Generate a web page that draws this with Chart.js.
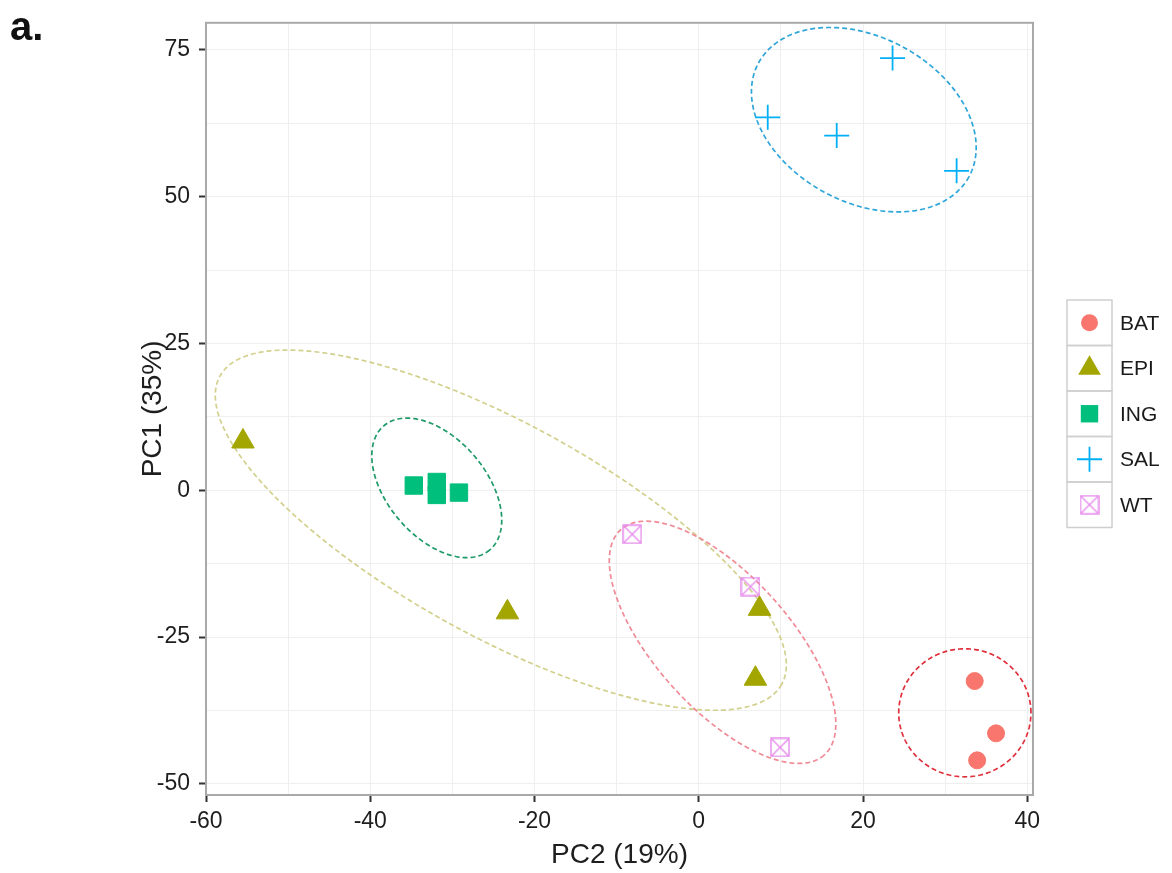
<!DOCTYPE html>
<html>
<head>
<meta charset="utf-8">
<script src="https://cdn.jsdelivr.net/npm/chart.js@4.4.0/dist/chart.umd.min.js"></script>
<style>
  html, body { margin: 0; padding: 0; background: #fff; }
  #wrap { position: relative; width: 1172px; height: 873px; }
</style>
</head>
<body>
<div id="wrap"><canvas id="pca" width="1172" height="873"></canvas></div>
<script>
// groups in legend order
var groups = ['BAT', 'EPI', 'ING', 'SAL', 'WT'];
var groupColors = ['#F8766D', '#A3A500', '#00BF7D', '#00B0F6', '#E68AEB'];
var ellipseColors = ['#E0303C', '#D2D08C', '#1E9A68', '#2FA6DA', '#F08A96'];

// PC2 (x) / PC1 (y) scores
var batX = [33.6, 36.2, 33.9];
var batY = [-32.5, -41.4, -46.0];
var epiX = [-55.5, -23.3, 7.4, 6.9];
var epiY = [8.3, -20.8, -20.2, -32.1];
var ingX = [-34.7, -31.9, -31.9, -29.2];
var ingY = [0.8, 1.4, -0.8, -0.4];
var salX = [23.6, 8.4, 16.8, 31.4];
var salY = [73.6, 63.5, 60.4, 54.4];
var wtX = [-8.1, 6.3, 9.9];
var wtY = [-7.5, -16.4, -43.8];

// confidence ellipses: centre + two half-axis vectors, in data units
var ellCx = [32.4, -24.1, -31.9, 20.1, 2.9];
var ellCy = [-37.9, -6.8, 0.4, 63.1, -25.9];
var ellUx = [8.05, 34.20, 6.45, 12.81, 12.39];
var ellUy = [0, -26.24, -10.57, -9.70, -19.18];
var ellVx = [0, -6.27, -4.58, -4.81, -6.06];
var ellVy = [10.9, -15.88, -5.43, -12.35, -7.60];

// axes
var xGrid = [-60, -50, -40, -30, -20, -10, 0, 10, 20, 30, 40];
var xLabels = [-60, -40, -20, 0, 20, 40];
var yGrid = [-50, -37.5, -25, -12.5, 0, 12.5, 25, 37.5, 50, 62.5, 75];
var yLabels = [-50, -25, 0, 25, 50, 75];

var FONT = '"Liberation Sans", Arial, sans-serif';

function pts(xs, ys) {
  return xs.map(function(x, i) { return { x: x, y: ys[i] }; });
}

// boxed-X marker for WT
function makeWtIcon(size, color) {
  var cv = document.createElement('canvas');
  cv.width = size; cv.height = size;
  var g = cv.getContext('2d');
  g.strokeStyle = color;
  g.lineWidth = 1.4;
  g.strokeRect(1, 1, size - 2, size - 2);
  g.beginPath();
  g.moveTo(1.5, 1.5); g.lineTo(size - 1.5, size - 1.5);
  g.moveTo(size - 1.5, 1.5); g.lineTo(1.5, size - 1.5);
  g.stroke();
  return cv;
}
var wtIcon = makeWtIcon(20, groupColors[4]);

var ellipsePlugin = {
  id: 'ellipses',
  beforeDatasetsDraw: function(chart) {
    var ctx = chart.ctx, xs = chart.scales.x, ys = chart.scales.y, a = chart.chartArea;
    ctx.save();
    ctx.beginPath();
    ctx.rect(a.left, a.top, a.right - a.left, a.bottom - a.top);
    ctx.clip();
    ctx.lineWidth = 1.7;
    ctx.setLineDash([5, 3]);
    for (var g = 0; g < groups.length; g++) {
      ctx.strokeStyle = ellipseColors[g];
      ctx.beginPath();
      for (var k = 0; k <= 240; k++) {
        var t = k / 240 * Math.PI * 2;
        var dx = ellCx[g] + ellUx[g] * Math.cos(t) + ellVx[g] * Math.sin(t);
        var dy = ellCy[g] + ellUy[g] * Math.cos(t) + ellVy[g] * Math.sin(t);
        var px = xs.getPixelForValue(dx), py = ys.getPixelForValue(dy);
        if (k === 0) ctx.moveTo(px, py); else ctx.lineTo(px, py);
      }
      ctx.closePath();
      ctx.stroke();
    }
    ctx.restore();
  }
};

function drawKey(ctx, g, x, y) {
  ctx.fillStyle = groupColors[g];
  ctx.strokeStyle = groupColors[g];
  ctx.beginPath();
  if (g === 0) {
    ctx.arc(x, y, 8.5, 0, Math.PI * 2);
    ctx.fill();
  } else if (g === 1) {
    ctx.moveTo(x, y - 13);
    ctx.lineTo(x + 11.3, y + 6.5);
    ctx.lineTo(x - 11.3, y + 6.5);
    ctx.closePath();
    ctx.fill();
  } else if (g === 2) {
    ctx.rect(x - 8.7, y - 8.7, 17.4, 17.4);
    ctx.fill();
  } else if (g === 3) {
    ctx.lineWidth = 1.8;
    ctx.moveTo(x - 12.5, y); ctx.lineTo(x + 12.5, y);
    ctx.moveTo(x, y - 12.5); ctx.lineTo(x, y + 12.5);
    ctx.stroke();
  } else {
    ctx.drawImage(wtIcon, x - 10, y - 10);
  }
}

var framePlugin = {
  id: 'frame',
  afterDraw: function(chart) {
    var ctx = chart.ctx, a = chart.chartArea;
    ctx.save();
    // panel border
    ctx.strokeStyle = '#a9a9a9';
    ctx.lineWidth = 2;
    ctx.strokeRect(a.left, a.top, a.right - a.left, a.bottom - a.top);

    // legend
    var keyL = 1067, keyW = 45, top0 = 300, rowH = 45.5;
    for (var g = 0; g < groups.length; g++) {
      var ty = top0 + g * rowH;
      ctx.strokeStyle = '#cfcfcf';
      ctx.lineWidth = 1.5;
      ctx.strokeRect(keyL, ty, keyW, rowH);
      drawKey(ctx, g, keyL + keyW / 2, ty + rowH / 2);
      ctx.fillStyle = '#1a1a1a';
      ctx.font = '21px ' + FONT;
      ctx.textAlign = 'left';
      ctx.textBaseline = 'middle';
      ctx.fillText(groups[g], keyL + keyW + 8, ty + rowH / 2 + 1);
    }

    // panel tag
    ctx.fillStyle = '#111';
    ctx.font = 'bold 40px ' + FONT;
    ctx.textAlign = 'left';
    ctx.textBaseline = 'alphabetic';
    ctx.fillText('a.', 10, 40);
    ctx.restore();
  }
};

var chart = new Chart(document.getElementById('pca'), {
  type: 'scatter',
  data: {
    datasets: [
      { label: 'BAT', data: pts(batX, batY), pointStyle: 'circle', pointRadius: 8.5,
        backgroundColor: groupColors[0], borderColor: groupColors[0], borderWidth: 1 },
      { label: 'EPI', data: pts(epiX, epiY), pointStyle: 'triangle', pointRadius: 13,
        backgroundColor: groupColors[1], borderColor: groupColors[1], borderWidth: 1 },
      { label: 'ING', data: pts(ingX, ingY), pointStyle: 'rect', pointRadius: 12.3,
        backgroundColor: groupColors[2], borderColor: groupColors[2], borderWidth: 1 },
      { label: 'SAL', data: pts(salX, salY), pointStyle: 'cross', pointRadius: 12.5,
        backgroundColor: groupColors[3], borderColor: groupColors[3], borderWidth: 1.8 },
      { label: 'WT', data: pts(wtX, wtY), pointStyle: wtIcon, pointRadius: 10,
        backgroundColor: groupColors[4], borderColor: groupColors[4], borderWidth: 0 }
    ]
  },
  options: {
    responsive: false,
    animation: false,
    events: [],
    layout: { padding: { top: 20, right: 139, left: 0, bottom: 0 } },
    plugins: {
      legend: { display: false },
      tooltip: { enabled: false }
    },
    scales: {
      x: {
        type: 'linear',
        min: -60,
        max: 40.7,
        afterBuildTicks: function(s) { s.ticks = xGrid.map(function(v) { return { value: v }; }); },
        afterFit: function(s) { s.height = 78; },
        ticks: {
          autoSkip: false, maxRotation: 0, padding: 6, color: '#1e1e1e',
          font: { family: FONT, size: 23 },
          callback: function(v) { return xLabels.indexOf(v) >= 0 ? String(v) : ''; }
        },
        grid: {
          color: '#efefef', lineWidth: 1, tickLength: 7, tickWidth: 2,
          tickColor: function(c) { return c.tick && xLabels.indexOf(c.tick.value) >= 0 ? '#333' : 'rgba(0,0,0,0)'; }
        },
        border: { display: true, color: '#9a9a9a', width: 2 },
        title: { display: true, text: 'PC2 (19%)', color: '#1e1e1e',
          font: { family: FONT, size: 28 }, padding: { top: 0, bottom: 1 } }
      },
      y: {
        type: 'linear',
        min: -51.9,
        max: 79.6,
        afterBuildTicks: function(s) { s.ticks = yGrid.map(function(v) { return { value: v }; }); },
        afterFit: function(s) { s.width = 206; },
        ticks: {
          autoSkip: false, padding: 9, color: '#1e1e1e',
          font: { family: FONT, size: 23 },
          callback: function(v) { return yLabels.indexOf(v) >= 0 ? String(v) : ''; }
        },
        grid: {
          color: '#efefef', lineWidth: 1, tickLength: 7, tickWidth: 2,
          tickColor: function(c) { return c.tick && yLabels.indexOf(c.tick.value) >= 0 ? '#333' : 'rgba(0,0,0,0)'; }
        },
        border: { display: true, color: '#9a9a9a', width: 2 },
        title: { display: true, text: 'PC1 (35%)', color: '#1e1e1e',
          font: { family: FONT, size: 28 }, padding: { top: 136, bottom: 0 } }
      }
    }
  },
  plugins: [ellipsePlugin, framePlugin]
});
</script>
</body>
</html>
